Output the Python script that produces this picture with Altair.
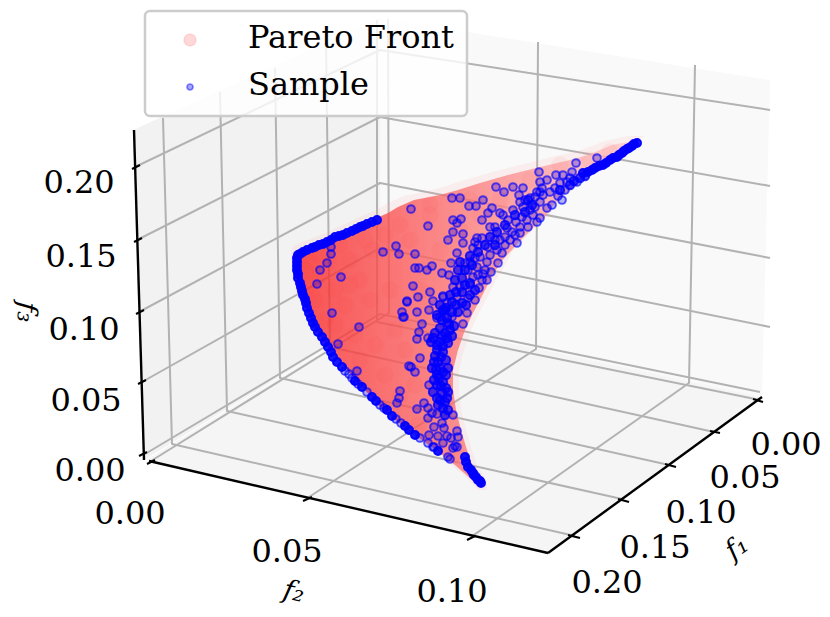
import altair as alt
import pandas as pd

# Projected picture-plane coordinates of the 3D scene
DOM_U = [8, 822]
DOM_V = [609, 8]

left_pane_u = [134, 144, 380]
left_pane_top = [130, 125, 18]
left_pane_bot = [130, 460, 315]
right_pane_u = [380, 762, 770]
right_pane_top = [18, 79, 80]
right_pane_bot = [315, 397, 80]
floor_u = [146, 380, 548, 762]
floor_top = [460, 316, 351, 397]
floor_bot = [460, 515, 553, 397]

grid_lines = {
    "f1_20": [(575, 536), (172, 444), (163, 118)],
    "f1_15": [(622, 499), (227, 411), (220, 92)],
    "f1_10": [(669, 465), (280, 378), (275, 68)],
    "f1_05": [(714, 432), (330, 347), (326, 43)],
    "f1_00": [(760, 400), (377, 322), (377, 20)],
    "f2_00": [(151, 461), (389, 313), (388, 19)],
    "f2_05": [(309, 497), (536, 349), (538, 42)],
    "f2_10": [(471, 537), (689, 383), (695, 65)],
    "z_00": [(145, 454), (380, 314), (760, 392)],
    "z_05": [(142, 382), (380, 248), (770, 327)],
    "z_10": [(139, 312), (380, 183), (770, 258)],
    "z_15": [(137, 240), (380, 117), (770, 186)],
    "z_20": [(135, 167), (380, 50), (770, 110)],
}
axis_lines = {
    "z": [(134, 130), (144, 460)],
    "f2": [(149, 461), (548, 553)],
    "f1": [(548, 553), (762, 397)],
}
tick_marks = {
    "z0": [(139, 456), (147, 452)], "z1": [(138, 384), (146, 380)],
    "z2": [(136, 314), (144, 310)], "z3": [(134, 242), (142, 238)],
    "z4": [(132, 169), (140, 165)],
    "y0": [(147, 464), (155, 460)], "y1": [(303, 501), (312, 497)],
    "y2": [(467, 540), (475, 536)],
    "x0": [(753, 399), (763, 402)], "x1": [(710, 431), (720, 433)],
    "x2": [(665, 464), (676, 467)], "x3": [(618, 499), (629, 502)],
    "x4": [(568, 535), (580, 538)],
}

# Pareto front silhouette: row, left edge, right edge
front_v = [140, 145, 150, 155, 160, 167, 175, 183, 190, 195, 200, 207, 213, 220, 228, 235, 243, 250, 255, 262, 270, 280, 290, 300, 313, 330, 350, 370, 390, 410, 430, 450, 465, 480, 487]
front_l = [638, 612, 600, 588, 570, 540, 508, 480, 458, 440, 414, 398, 388, 372, 355, 340, 320, 300, 296, 295, 295, 297, 299, 302, 308, 316, 330, 347, 365, 383, 408, 436, 455, 472, 480]
front_r = [642, 632, 625, 617, 610, 600, 590, 578, 570, 564, 558, 552, 548, 542, 533, 526, 518, 512, 507, 501, 496, 490, 485, 480, 473, 465, 458, 453, 453, 456, 461, 467, 472, 481, 484]

# Pale fringe around the silhouette
halo_v = [136, 141, 146, 151, 156, 163, 171, 179, 186, 191, 196, 203, 209, 216, 224, 231, 239, 246, 252, 262, 270, 280, 290, 300, 313, 330, 350, 370, 390, 410, 430, 450, 465, 480, 490]
halo_l = [628, 605, 592, 578, 556, 528, 496, 468, 446, 428, 404, 388, 378, 362, 345, 330, 310, 293, 291, 292, 292, 294, 296, 299, 305, 313, 327, 344, 362, 380, 405, 433, 452, 469, 478]
halo_r = [645, 636, 630, 622, 615, 605, 595, 584, 576, 570, 564, 558, 553, 548, 539, 532, 524, 518, 512, 507, 502, 496, 491, 486, 479, 471, 464, 459, 459, 461, 466, 472, 477, 486, 487]

# Denser patches of the front cloud
cloud = [(310,262),(320,275),(308,285),(330,262),(315,300),(335,290),(350,260),(360,280),(345,305),(325,320),(372,250),(385,235),(400,225),(370,300),(390,290),(410,240),(430,215),(355,335),(375,345),(395,330),(405,350),(385,375),(400,395),(415,385),(430,205),(470,200),(500,200),(460,230),(480,215),(440,250),(420,290),(320,255),(305,270),(340,245),(365,240),(350,285),(335,325),(360,360),(418,425),(440,440),(455,455),(530,180),(560,165),(590,160),(610,152)]

sample_edge = [
 (377,220),(372,222),(367,224),(363,226),(360,227),(356,229),(352,231),(347,233),(343,235),(339,236),(335,237),(331,240),(327,242),(323,244),(319,245),(315,247),(312,248),(307,250),(303,252),(300,254),
 (298,255),(297,258),(297,262),(297,266),(297,270),(298,274),(298,278),(300,283),(301,287),(302,291),(303,295),(305,299),(306,303),(307,308),(309,313),(311,318),(313,323),(315,327),(318,332),(322,337),(325,342),(328,347),(331,352),(333,357),(337,362),
 (342,367),(355,381),(362,387),(372,397),(376,401),(387,410),(392,416),(405,426),(409,430),(415,435),(438,451),
 (465,457),(468,467),(466,462),(471,470),(473,473),(476,477),(478,480),(481,483),(480,481),(474,475),
 (637,143),(634,144),(632,146),(629,148),(627,149),(624,151),(622,153),(619,155),(617,157),(613,158),(610,160),(606,163),(603,165),(599,166),(595,168),(592,170),(588,172),(583,173),
]

sample = [
 # left-edge extras
 (349,374),(345,371),(352,378),(358,384),(367,392),(380,405),(384,408),(396,419),(401,423),(420,438),(428,443),(434,447),(450,459),
 # lower interior
 (332,313),(359,327),(338,344),(357,371),(407,302),(402,312),(404,317),(417,312),(429,310),(422,324),(419,332),(417,339),(428,338),(420,358),(409,366),(411,367),(415,372),(429,385),(400,391),(399,398),(397,403),(417,409),(424,403),(428,408),(432,413),(428,418),(437,414),(434,427),(442,423),(429,435),(438,436),(443,443),(433,447),(451,438),(457,431),(458,437),(453,448),(448,457),(457,447),(453,415),(455,446),(444,428),(447,436),
 # upper-middle interior
 (411,209),(428,226),(396,246),(383,252),(399,254),(415,254),(331,247),(331,254),(327,263),(320,270),(341,277),(317,284),(415,268),(419,268),(427,270),(432,266),(442,273),(451,263),(413,286),(418,297),(407,301),(430,292),(433,301),(443,296),(403,317),(437,318),(452,198),(460,198),(469,206),(476,206),(453,220),(461,219),(457,223),(453,232),(448,240),(463,234),(463,243),(477,238),(457,253),(473,248),(478,245),
 # ribbon
 (597,158),(576,163),(572,172),(577,182),(567,182),(560,183),(563,175),(556,175),(539,172),(565,190),(555,188),(547,180),(540,182),(550,192),(542,188),(537,192),(530,198),(523,188),(513,187),(504,192),(496,187),(519,195),(520,202),(540,202),(562,200),(552,205),(547,208),(535,207),(523,207),(513,210),(508,220),(522,217),(540,218),(537,222),(528,227),(520,227),(512,232),(500,213),(492,208),(483,200),(488,213),(482,220),(495,227),(490,227),(505,237),(520,233),(517,243),(510,240),(500,240),(482,238),(475,242),(502,253),(488,247),(480,257),(498,263),(487,262),(477,267),(465,263),(491,272),(483,274),(482,280),(487,280),(473,277),(479,288),(468,298),(460,287),(453,287),(457,297),(467,313),(463,324),(449,275),(443,297),(447,303),(452,317),(440,317),(447,323),
 # extra ribbon cover
 (533,215),(527,220),(516,222),(530,210),(543,195),(558,196),(570,178),(505,245),(497,250),(490,255),(475,258),(470,262),(468,270),(478,275),(470,285),(475,300),(485,270),(495,240),(507,228),(515,235),(503,215),(540,192),(535,197),(525,200),
]

sample_core = [
 (443,310),(447,318),(450,330),(445,333),(433,338),(440,342),(448,343),(437,350),(443,352),(438,362),(432,368),(448,368),(437,375),(443,382),(437,385),(448,392),(442,393),(437,398),(445,402),(448,410),
 (440,305),(446,308),(452,312),(437,315),(442,320),(449,324),(454,326),(440,328),(435,333),(442,336),(452,336),(447,338),(431,342),(437,345),(443,346),(435,356),(441,357),(446,360),(434,362),(440,368),(436,370),(443,372),(446,375),(439,378),(434,380),(441,386),(446,388),(433,392),(440,400),(447,398),(443,408),(438,405),(445,415),
 (574,181),(580,178),(585,176),(570,185),(560,190),(532,205),(528,200),(525,212),(515,215),(505,225),(497,232),(490,237),(485,245),(495,245),(478,252),(470,256),(465,270),(472,265),(460,262),(458,270),(462,278),(470,283),(475,290),(465,285),(455,280),(462,292),(456,292),(470,295),(462,303),(456,305),(450,295),(466,305),(452,302),(445,310),(458,312),
]

z_labels = [("0.20",79,183),("0.15",81,257),("0.10",84,330),("0.05",86,401),("0.00",90,471)]
f2_labels = [("0.00",130,514),("0.05",287,552),("0.10",452,592)]
f1_labels = [("0.00",786,445),("0.05",745,478),("0.10",701,513),("0.15",655,548),("0.20",607,583)]

U = alt.X("u:Q", scale=alt.Scale(domain=DOM_U, nice=False, zero=False), axis=None)
V = alt.Y("v:Q", scale=alt.Scale(domain=DOM_V, nice=False, zero=False), axis=None)
V2 = alt.Y2("v2:Q")


def pts(pairs):
    return pd.DataFrame(pairs, columns=["u", "v"])


def segs(d):
    rows = [(k, i, a, b) for k, p in d.items() for i, (a, b) in enumerate(p)]
    return pd.DataFrame(rows, columns=["id", "seq", "u", "v"])


def pane(us, top, bot, colour):
    df = pd.DataFrame({"u": us, "v": top, "v2": bot})
    return alt.Chart(df).mark_area(color=colour, opacity=1).encode(x=U, y=V, y2=V2)


def lines(d, colour, w):
    return alt.Chart(segs(d)).mark_line(color=colour, strokeWidth=w, strokeJoin="round").encode(
        x=U, y=V, detail="id:N", order="seq:Q")


def texts(rows, size, **kw):
    df = pd.DataFrame(rows, columns=["t", "u", "v"])
    kw.setdefault("font", "DejaVu Serif")
    return alt.Chart(df).mark_text(fontSize=size, color="#000000", baseline="middle", **kw).encode(
        x=U, y=V, text="t:N")


halo = alt.Chart(pd.DataFrame({"u": halo_l, "u2": halo_r, "v": halo_v})).mark_area(
    orient="horizontal", color="#ff9a9a", opacity=0.12
).encode(x=U, x2=alt.X2("u2:Q"), y=V)

front = alt.Chart(pd.DataFrame({"u": front_l, "u2": front_r, "v": front_v})).mark_area(
    orient="horizontal",
    color=alt.Gradient(
        gradient="linear", x1=0, x2=1, y1=0, y2=0,
        stops=[
            alt.GradientStop(offset=0.0, color="#fa1e1e"),
            alt.GradientStop(offset=0.3, color="#fb5050"),
            alt.GradientStop(offset=1.0, color="#ffd0d0"),
        ],
    ),
    opacity=0.75,
).encode(x=U, x2=alt.X2("u2:Q"), y=V)

cloud_layer = alt.Chart(pts(cloud)).mark_circle(color="#ff3030", opacity=0.05, size=300).encode(x=U, y=V)


def dots(pairs, size, fo, so, sw):
    return alt.Chart(pts(pairs)).mark_point(
        shape="circle", size=size, filled=True, fill="#0000ff", fillOpacity=fo,
        stroke="#0000ff", strokeOpacity=so, strokeWidth=sw).encode(x=U, y=V)


legend_box = alt.Chart(pd.DataFrame({"u": [145], "u2": [467], "v": [11], "v2": [116]})).mark_rect(
    fill="#ffffff", fillOpacity=0.8, stroke="#cccccc", strokeWidth=2.5, cornerRadius=5
).encode(x=U, x2=alt.X2("u2:Q"), y=V, y2=V2)
legend_front = alt.Chart(pts([(190, 40)])).mark_point(
    shape="circle", size=150, filled=True, fill="#ff0000", fillOpacity=0.15,
    stroke="#ff0000", strokeOpacity=0.1, strokeWidth=1.5).encode(x=U, y=V)
legend_sample = dots([(190, 87)], 36, 0.35, 0.45, 1.7)

chart = alt.layer(
    pane(left_pane_u, left_pane_top, left_pane_bot, "#f2f2f2"),
    pane(right_pane_u, right_pane_top, right_pane_bot, "#f9f9f9"),
    pane(floor_u, floor_top, floor_bot, "#f5f5f5"),
    lines(grid_lines, "#b2b2b2", 2),
    lines(axis_lines, "#000000", 2.4),
    lines(tick_marks, "#000000", 2),
    halo,
    front,
    cloud_layer,
    dots(sample, 60, 0.28, 0.65, 2),
    dots(sample_core, 70, 0.7, 0.8, 2),
    dots(sample_edge, 64, 0.9, 0.95, 2),
    texts(z_labels, 32, align="center"),
    texts(f2_labels, 32, align="center"),
    texts(f1_labels, 32, align="center"),
    texts([("f₂", 294, 592)], 27, align="center", fontStyle="italic", angle=13),
    texts([("f₁", 737, 548)], 27, align="center", fontStyle="italic", angle=325),
    texts([("f₃", 26, 312)], 27, align="center", fontStyle="italic", angle=95),
    legend_box,
    legend_front,
    legend_sample,
    texts([("Pareto Front", 248, 38), ("Sample", 248, 85)], 32, align="left"),
).properties(
    width=814, height=601, padding=0, background="#ffffff",
    autosize=alt.AutoSizeParams(type="none"),
).configure_view(strokeWidth=0)

chart.save("out.html", embed_options={"renderer": "svg", "actions": False})
